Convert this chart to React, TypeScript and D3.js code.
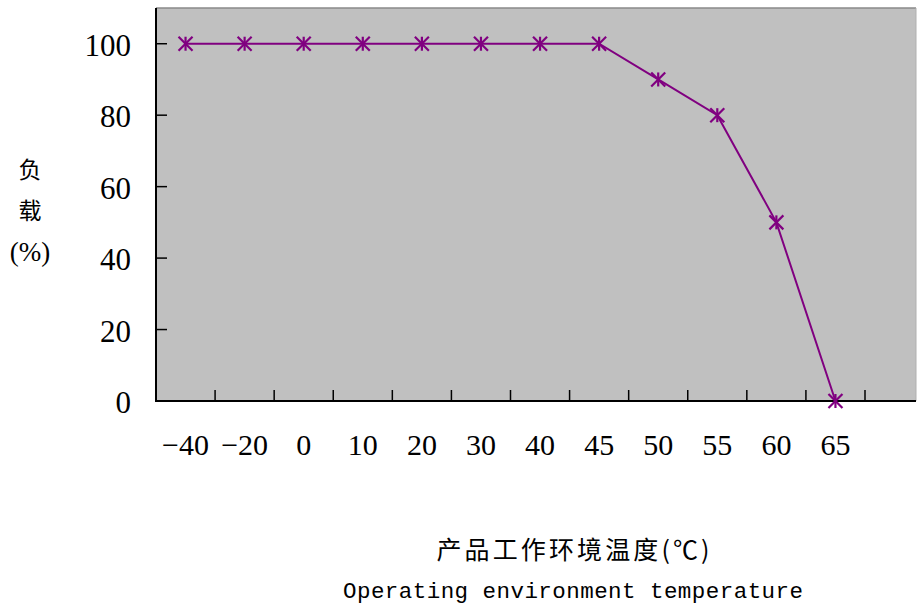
import React from "react";
import * as d3 from "d3";

const categories: string[] = ["−40", "−20", "0", "10", "20", "30", "40", "45", "50", "55", "60", "65"];
const loadValues: number[] = [100, 100, 100, 100, 100, 100, 100, 100, 90, 80, 50, 0];
const yTicks: number[] = [0, 20, 40, 60, 80, 100];
const yTitle: string[] = ["负", "载", "(%)"];
const xTitleCN = "产品工作环境温度(℃)";
const xTitleEN = "Operating environment temperature";

const W = 917;
const H = 608;
const left = 156;
const bandRight = 865;
const plotRight = 916;
const top = 8;
const bottom = 401;

export default function App() {
  const x = d3.scaleBand<string>().domain(categories).range([left, bandRight]).paddingInner(0).paddingOuter(0);
  const y = d3.scaleLinear().domain([0, 110]).range([bottom, top]);
  const cx = (c: string) => (x(c) as number) + x.bandwidth() / 2;
  const pts = categories.map((c, i) => [cx(c), y(loadValues[i])] as [number, number]);
  const line = d3.line<[number, number]>().x((d) => d[0]).y((d) => d[1])(pts) as string;
  const s = 7;
  const serif: React.CSSProperties = { fontFamily: "Liberation Serif" };
  const cjk: React.CSSProperties = { fontFamily: "Noto Sans CJK SC" };

  return (
    <svg width={W} height={H} style={{ position: "absolute", left: 0, top: 0, background: "#fff" }}>
      <rect x={left} y={top} width={plotRight - left} height={bottom - top} fill="#C0C0C0" />
      <line x1={left} x2={plotRight} y1={top} y2={top} stroke="#8a8a8a" strokeWidth={1.5} />
      <line x1={plotRight} x2={plotRight} y1={top} y2={bottom} stroke="#b0b0b0" strokeWidth={1} />
      {yTicks.map((t) => (
        <g key={"y" + t}>
          {t > 0 && <line x1={left} x2={left + 11} y1={y(t)} y2={y(t)} stroke="#000" strokeWidth={1.5} />}
          <text x={131} y={y(t) + 12} textAnchor="end" style={serif} fontSize={31} fill="#000">
            {t}
          </text>
        </g>
      ))}
      {categories.map((c) => (
        <g key={"x" + c}>
          <line
            x1={(x(c) as number) + x.bandwidth()}
            x2={(x(c) as number) + x.bandwidth()}
            y1={bottom}
            y2={bottom - 11}
            stroke="#000"
            strokeWidth={1.5}
          />
          <text x={cx(c)} y={455} textAnchor="middle" style={serif} fontSize={30} fill="#000">
            {c}
          </text>
        </g>
      ))}
      <line x1={left} x2={left} y1={top} y2={bottom + 1} stroke="#000" strokeWidth={2} />
      <line x1={left - 1} x2={plotRight} y1={bottom} y2={bottom} stroke="#000" strokeWidth={2} />
      <path d={line} fill="none" stroke="#800080" strokeWidth={2} />
      {pts.map(([px, py], i) => (
        <g key={"m" + i} stroke="#800080" strokeWidth={2.2}>
          <line x1={px - s} x2={px + s} y1={py - s} y2={py + s} />
          <line x1={px - s} x2={px + s} y1={py + s} y2={py - s} />
          <line x1={px} x2={px} y1={py - s} y2={py + s} />
        </g>
      ))}
      <text x={30} y={178} textAnchor="middle" style={cjk} fontSize={23} fill="#000">{yTitle[0]}</text>
      <text x={30} y={219} textAnchor="middle" style={cjk} fontSize={23} fill="#000">{yTitle[1]}</text>
      <text x={30} y={261} textAnchor="middle" style={serif} fontSize={27} fill="#000">{yTitle[2]}</text>
      <text x={573} y={559} textAnchor="middle" style={cjk} fontSize={25} fill="#000" textLength={273} lengthAdjust="spacing">
        {xTitleCN}
      </text>
      <text x={573} y={598} textAnchor="middle" style={{ fontFamily: "Liberation Mono" }} fontSize={22.5} fill="#000" textLength={460} lengthAdjust="spacing">
        {xTitleEN}
      </text>
    </svg>
  );
}
